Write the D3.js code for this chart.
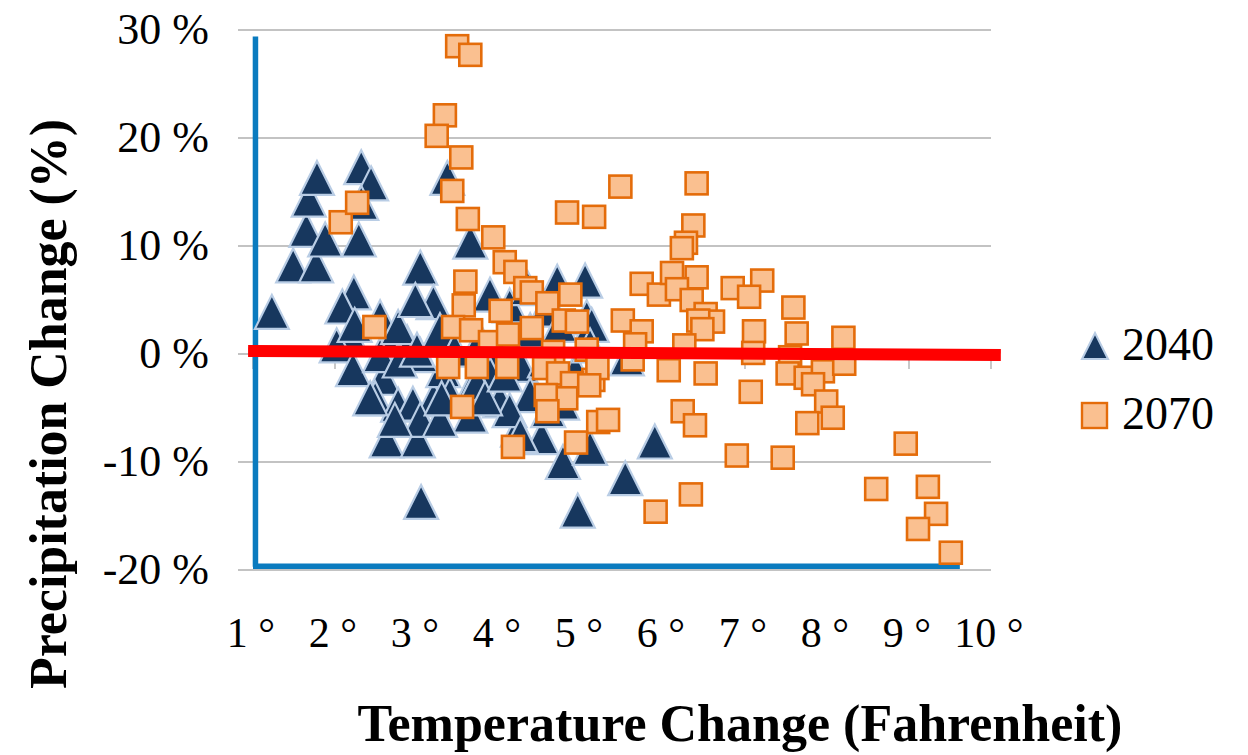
<!DOCTYPE html>
<html>
<head>
<meta charset="utf-8">
<script src="https://cdn.jsdelivr.net/npm/d3@7/dist/d3.min.js"></script>
<style>
  html, body { margin: 0; padding: 0; background: #fff; }
  svg { display: block; }
  text { font-family: "Liberation Serif", "DejaVu Serif", serif; }
</style>
</head>
<body>
<svg id="chart" width="1248" height="755"></svg>
<script>
// ---- data ----
const xTicks = [1, 2, 3, 4, 5, 6, 7, 8, 9, 10];
const yTicks = [-20, -10, 0, 10, 20, 30];
const seriesNames = ["2040", "2070"];

const temp2040 = [1.23, 1.49, 1.77, 1.65, 1.68, 1.78, 1.88, 2.29, 2.32, 2.44, 2.32, 2.23, 2.09, 2.55, 2.20, 2.02, 2.76, 2.88, 2.22, 2.59,
  2.49, 2.77, 2.95, 2.63, 3.01, 3.20, 3.05, 3.04, 3.20, 3.37, 3.65, 3.89, 4.13, 4.35, 4.71, 5.05, 5.07, 3.67, 4.23, 4.52,
  3.65, 4.78, 5.54, 4.96, 4.01, 5.11, 5.90, 3.32, 3.04, 2.55, 2.79, 3.28, 3.46, 4.38, 4.56, 4.74, 3.77, 4.01, 4.26, 4.56,
  4.74, 4.93, 4.38, 3.89, 3.40, 3.04, 2.73, 2.24, 5.13, 3.28, 4.13, 4.60, 5.56,
  2.77, 3.00, 2.43, 3.30, 3.73, 3.83, 4.07, 4.26, 4.77, 5.11, 2.98];
const precip2040 = [3.9, 8.2, 8.2, 11.5, 14.3, 16.3, 10.6, 10.6, 17.3, 15.8, 14.0, 5.7, 4.4, 3.4, 1.5, 0.8, 1.8, 1.1, -1.4, -2.2,
  -4.1, -4.7, -4.6, -8.0, -8.0, -4.2, -13.7, 8.0, 4.8, 16.3, 10.4, 5.5, 4.5, 6.1, 6.7, 6.8, 3.4, -3.1, -7.0, -7.7,
  -5.7, -10.0, -11.5, -14.5, -4.3, -8.7, -8.1, -1.5, -0.1, -0.1, -0.6, 2.2, 0.4, 2.2, 4.1, 2.7, 1.3, -0.1, -1.0, -0.6,
  -2.9, -1.5, -3.8, -1.9, -3.8, -6.1, -6.1, 2.7, 2.7, -6.1, -5.2, -5.2, -0.4,
  2.5, 0.4, -4.1, -4.1, -2.7, -4.1, -1.9, -7.5, -4.5, 0.8, 5.0];

const temp2070 = [3.49, 3.65, 3.34, 3.24, 3.54, 3.43, 3.62, 3.93, 4.07, 4.20, 4.32, 4.40, 4.83, 5.16, 5.48, 6.41, 2.07, 2.27, 2.48, 6.37,
  6.28, 6.23, 5.74, 5.95, 6.11, 6.41, 6.17, 6.35, 6.85, 7.21, 7.05, 6.52, 6.61, 6.43, 6.48, 5.51, 5.74, 5.66, 5.63, 6.07,
  6.52, 6.26, 7.11, 7.10, 7.59, 7.63, 7.55, 7.52, 7.74, 7.95, 7.83, 7.99, 7.76, 8.07, 7.07, 6.24, 6.39, 6.90, 7.46, 6.34,
  5.91, 8.20, 8.21, 8.96, 8.60, 9.23, 9.33, 9.11, 9.51, 5.15, 3.59, 4.87, 3.57, 4.02, 4.59, 4.79, 4.95, 4.40, 3.44, 3.66,
  3.89, 4.11, 4.66, 5.07, 3.38, 3.73, 4.10, 4.55, 4.72, 5.20, 4.89, 5.10, 4.82, 4.57, 4.59, 3.55, 5.21, 5.33, 4.94, 4.17];
const precip2070 = [28.5, 27.7, 22.1, 20.2, 18.2, 15.1, 12.5, 10.8, 8.5, 7.6, 6.1, 5.7, 13.1, 12.7, 15.5, 15.8, 12.2, 14.0, 2.5, 11.9,
  10.3, 9.8, 6.5, 5.5, 7.5, 7.1, 6.0, 5.0, 6.1, 6.8, 5.3, 3.7, 3.0, 3.1, 2.3, 3.1, 2.1, 0.9, -0.5, -1.5,
  -1.8, 0.8, 2.1, 0.1, 4.3, 1.9, -0.3, -1.8, -2.2, -1.6, -2.8, -4.4, -6.4, -5.9, -3.5, -5.3, -6.6, -9.4, -9.6, -13.0,
  -14.6, 1.5, -0.9, -8.3, -12.5, -12.3, -14.8, -16.2, -18.4, -2.4, 6.7, 5.5, 4.5, 4.0, 4.7, 3.1, 3.0, 2.4, 2.5, 2.2,
  1.1, 1.8, 0.2, 0.4, -1.2, -1.2, -1.2, -1.3, -1.8, -1.3, -2.7, -2.9, -4.1, -3.8, -5.3, -4.9, -6.3, -6.1, -8.2, -8.6];

// red trend line and blue drawn axis lines (data-space endpoints)
const trendX = [0.94, 10.12];
const trendY = [0.28, -0.09];
const blueVX = [1.03, 1.03];
const blueVY = [29.4, -19.7];
const blueHX = [1.0, 9.62];
const blueHY = [-19.65, -19.65];

// ---- layout ----
const svg = d3.select("#chart");
const x = d3.scaleLinear().domain([1, 10]).range([253, 991]);
const y = d3.scaleLinear().domain([-20, 30]).range([570, 30]);

const gridColor = "#c3c3c3";

// gridlines
svg.append("g").selectAll("line").data(yTicks).join("line")
  .attr("x1", x(1) - 15).attr("x2", x(10))
  .attr("y1", d => y(d)).attr("y2", d => y(d))
  .attr("stroke", gridColor).attr("stroke-width", 1.8);

// x ticks (axis crosses at 0)
svg.append("g").selectAll("line").data(xTicks).join("line")
  .attr("x1", d => x(d)).attr("x2", d => x(d))
  .attr("y1", y(0)).attr("y2", y(0) + 15)
  .attr("stroke", gridColor).attr("stroke-width", 1.8);

// y tick labels
svg.append("g").selectAll("text").data(yTicks).join("text")
  .attr("x", 209).attr("y", d => y(d) + 14)
  .attr("text-anchor", "end")
  .attr("font-size", 44)
  .attr("fill", "#000")
  .text(d => d + " %");

// x tick labels
svg.append("g").selectAll("text").data(xTicks).join("text")
  .attr("x", d => x(d) - 2).attr("y", 647)
  .attr("text-anchor", "middle")
  .attr("font-size", 42)
  .attr("fill", "#000")
  .text(d => d + " °");

// blue drawn lines
const lineGen = d3.line().x(d => x(d[0])).y(d => y(d[1]));
svg.append("path").attr("d", lineGen(d3.zip(blueVX, blueVY)))
  .attr("stroke", "#0a7bbf").attr("stroke-width", 5.5).attr("fill", "none");
svg.append("path").attr("d", lineGen(d3.zip(blueHX, blueHY)))
  .attr("stroke", "#0a7bbf").attr("stroke-width", 5.5).attr("fill", "none");

// markers
const triSize = 17;
function triPath(s) { return `M0,${-s} L${s},${s} L${-s},${s} Z`; }
const sqSize = 11;

const pts2040 = d3.zip(temp2040, precip2040);
const pts2070 = d3.zip(temp2070, precip2070);

svg.append("g").selectAll("path").data(pts2040).join("path")
  .attr("transform", d => `translate(${x(d[0])},${y(d[1])})`)
  .attr("d", triPath(triSize))
  .attr("fill", "#17375e")
  .attr("stroke", "#b9cde5").attr("stroke-width", 2.2).attr("stroke-linejoin", "miter");

svg.append("g").selectAll("rect").data(pts2070).join("rect")
  .attr("x", d => x(d[0]) - sqSize).attr("y", d => y(d[1]) - sqSize)
  .attr("width", sqSize * 2).attr("height", sqSize * 2)
  .attr("fill", "#fac090")
  .attr("stroke", "#e46c0a").attr("stroke-width", 2.6);

// red trend line
svg.append("path").attr("d", lineGen(d3.zip(trendX, trendY)))
  .attr("stroke", "#ff0000").attr("stroke-width", 12).attr("fill", "none");

// legend
const lg = svg.append("g");
lg.append("path").attr("transform", "translate(1095,346)")
  .attr("d", triPath(13)).attr("fill", "#17375e")
  .attr("stroke", "#b9cde5").attr("stroke-width", 2);
lg.append("rect").attr("x", 1082).attr("y", 403).attr("width", 25).attr("height", 25)
  .attr("fill", "#fac090").attr("stroke", "#e46c0a").attr("stroke-width", 2.4);
lg.selectAll("text").data(seriesNames).join("text")
  .attr("x", 1122).attr("y", (d, i) => 360 + i * 69)
  .attr("font-size", 46).attr("fill", "#000")
  .text(d => d);

// axis titles
function fit(sel, target) {
  const w = sel.node().getComputedTextLength();
  const fs = parseFloat(sel.attr("font-size"));
  sel.attr("font-size", fs * target / w);
}
const xt = svg.append("text")
  .attr("x", 740).attr("y", 741)
  .attr("text-anchor", "middle")
  .attr("font-weight", "bold").attr("font-size", 48).attr("fill", "#000")
  .text("Temperature Change (Fahrenheit)");
fit(xt, 765);

const yt = svg.append("text")
  .attr("transform", "translate(66,404) rotate(-90)")
  .attr("text-anchor", "middle")
  .attr("font-weight", "bold").attr("font-size", 48).attr("fill", "#000")
  .text("Precipitation Change (%)");
fit(yt, 570);
</script>
</body>
</html>
